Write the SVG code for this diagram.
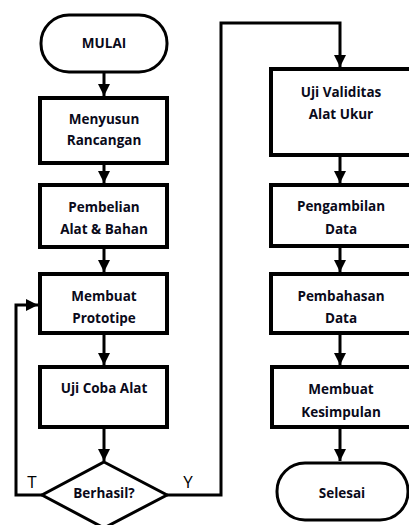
<svg xmlns="http://www.w3.org/2000/svg" width="409" height="525" viewBox="0 0 409 525">
<style>
.box{fill:#fff;stroke:#000;stroke-width:4}
.term{fill:#fff;stroke:#000;stroke-width:3}
.line{fill:none;stroke:#000;stroke-width:3}
.t{font-family:"Open Sans","DejaVu Sans",sans-serif;font-weight:700;font-size:13.5px;fill:#0a0a1a;text-anchor:middle}
.lbl{font-family:"Open Sans","DejaVu Sans",sans-serif;font-size:17px;fill:#000;text-anchor:middle}
</style>
<defs>
<marker id="ah" markerUnits="userSpaceOnUse" markerWidth="14" markerHeight="14" viewBox="0 0 14 14" refX="12" refY="7" orient="auto">
<path d="M0,1 L12,7 L0,13 Z" fill="#000"/>
</marker>
</defs>
<g id="connectors">
<path class="line" d="M104,72 V96" marker-end="url(#ah)"/>
<path class="line" d="M104,163 V183" marker-end="url(#ah)"/>
<path class="line" d="M104,247 V272" marker-end="url(#ah)"/>
<path class="line" d="M104,333 V365" marker-end="url(#ah)"/>
<path class="line" d="M104,427 V461" marker-end="url(#ah)"/>
<path class="line" d="M42,495 H16 V305 H38" marker-end="url(#ah)"/>
<path class="line" d="M167,495 H221 V23 H340 V67" marker-end="url(#ah)"/>
<path class="line" d="M340,155 V183" marker-end="url(#ah)"/>
<path class="line" d="M340,246 V272" marker-end="url(#ah)"/>
<path class="line" d="M340,333 V365" marker-end="url(#ah)"/>
<path class="line" d="M340,427 V461" marker-end="url(#ah)"/>
</g>
<g id="mulai">
<rect class="term" x="41" y="15" width="126" height="57" rx="28" ry="28"/>
<text class="t" x="104" y="48">MULAI</text>
</g>
<g id="menyusun">
<rect class="box" x="40" y="98" width="127" height="65"/>
<text class="t" x="104" y="124">Menyusun</text>
<text class="t" x="104" y="145">Rancangan</text>
</g>
<g id="pembelian">
<rect class="box" x="40" y="185" width="127" height="62"/>
<text class="t" x="104" y="212">Pembelian</text>
<text class="t" x="104" y="234">Alat &amp; Bahan</text>
</g>
<g id="prototipe">
<rect class="box" x="40" y="274" width="127" height="59"/>
<text class="t" x="104" y="301">Membuat</text>
<text class="t" x="104" y="323">Prototipe</text>
</g>
<g id="ujicoba">
<rect class="box" x="40" y="367" width="127" height="60"/>
<text class="t" x="104" y="393">Uji Coba Alat</text>
</g>
<g id="berhasil">
<path class="line" style="fill:#fff" d="M104,462 L167,495 L104,528 L42,495 Z"/>
<text class="t" x="104" y="498">Berhasil?</text>
</g>
<text class="lbl" x="32" y="488">T</text>
<text class="lbl" x="188" y="488">Y</text>
<g id="validitas">
<rect class="box" x="271" y="69" width="140" height="86"/>
<text class="t" x="341" y="97">Uji Validitas</text>
<text class="t" x="341" y="119">Alat Ukur</text>
</g>
<g id="pengambilan">
<rect class="box" x="271" y="185" width="140" height="61"/>
<text class="t" x="341" y="211">Pengambilan</text>
<text class="t" x="341" y="234">Data</text>
</g>
<g id="pembahasan">
<rect class="box" x="271" y="274" width="140" height="59"/>
<text class="t" x="341" y="301">Pembahasan</text>
<text class="t" x="341" y="323">Data</text>
</g>
<g id="kesimpulan">
<rect class="box" x="272" y="367" width="139" height="60"/>
<text class="t" x="341" y="394">Membuat</text>
<text class="t" x="341" y="417">Kesimpulan</text>
</g>
<g id="selesai">
<rect class="term" x="277" y="463" width="131" height="57" rx="28" ry="28"/>
<text class="t" x="342" y="498">Selesai</text>
</g>
</svg>
